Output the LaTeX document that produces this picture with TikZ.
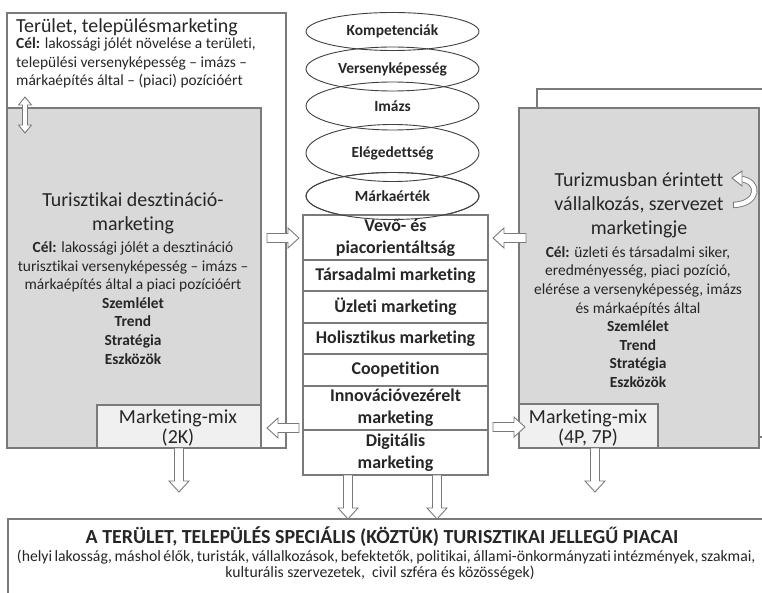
\documentclass[tikz,border=0pt]{standalone}
\usepackage{fontspec}
\setmainfont{Carlito}[Ligatures=NoCommon]
\usetikzlibrary{shapes.geometric}
\definecolor{bordc}{HTML}{7A7A7A}
\definecolor{fillg}{HTML}{D9D9D9}
\definecolor{filll}{HTML}{F0F0F0}
\definecolor{txt}{HTML}{262626}
\definecolor{ellc}{HTML}{404040}
\tikzset{
  panel/.style={draw=bordc, line width=1.3bp, inner sep=0pt, outer sep=0pt, anchor=north west},
  rowbox/.style={draw=bordc, line width=1.3bp, fill=white, inner sep=0pt, outer sep=0pt,
     minimum width=185bp, anchor=north, align=center, text=txt,
     font=\fontsize{18}{22}\selectfont\bfseries},
  ell/.style={ellipse, draw=ellc, line width=0.9bp, inner sep=0pt, minimum width=173bp,
     text=txt, font=\fontsize{15.5}{19}\selectfont\bfseries},
  bigtxt/.style={inner sep=0pt, text=txt, align=center, font=\fontsize{20}{24}\selectfont},
  bodytxt/.style={inner sep=0pt, text=txt, align=center, font=\fontsize{15.5}{18.7}\selectfont},
  mixtxt/.style={inner sep=0pt, text=txt, align=center, font=\fontsize{20}{21}\selectfont},
  arrsty/.style={draw=bordc, fill=white, line width=0.9bp, line join=miter},
  pics/barrow/.style={code={
    \draw[arrsty] (0,-4.5) -- (#1-11,-4.5) -- (#1-11,-10) -- (#1,0) -- (#1-11,10)
       -- (#1-11,4.5) -- (0,4.5) -- cycle;
  }},
}
\begin{document}
\begin{tikzpicture}[x=1bp,y=-1bp]
\useasboundingbox (0,0) rectangle (762,593);
\clip (0,0) rectangle (762,593);
\fill[white] (0,0) rectangle (762,593);

% ---------- left panel ----------
\node[panel, fill=white, minimum width=279bp, minimum height=435bp] (lout) at (7,13) {};
\node[panel, fill=fillg, minimum width=254bp, minimum height=340bp] (lgray) at (7,108) {};
\node[panel, fill=filll, minimum width=164bp, minimum height=43bp] (lmix) at (97,405) {};

\node[anchor=west, bigtxt] (ltitle) at (16,27) {Terület, településmarketing};
\node[anchor=west, bodytxt, align=left] (lcel) at (16,63)
  {\textbf{Cél:} lakossági jólét növelése a területi,\\
   települési versenyképesség – imázs –\\
   márkaépítés által – (piaci) pozícióért};

\draw[arrsty] (25,97) -- (31.5,105) -- (27.5,105) -- (27.5,125) -- (31.5,125) -- (25,133)
   -- (18.5,125) -- (22.5,125) -- (22.5,105) -- (18.5,105) -- cycle;

\node[bigtxt] (ldest) at (133,213) {Turisztikai desztináció-\\marketing};
\node[bodytxt] (ldcel) at (133,303)
  {\textbf{Cél:} lakossági jólét a desztináció\\
   turisztikai versenyképesség – imázs –\\
   márkaépítés által a piaci pozícióért\\
   \textbf{Szemlélet}\\ \textbf{Trend}\\ \textbf{Stratégia}\\ \textbf{Eszközök}};
\node[mixtxt] (lmixt) at (178,428) {Marketing-mix\\(2K)};

% ---------- right panel ----------
\draw[bordc, line width=1.3bp] (537,108) -- (537,89) -- (775,89);
\draw[bordc, line width=1.3bp] (759,437) -- (775,437);
\node[panel, fill=fillg, minimum width=240bp, minimum height=340bp] (rgray) at (519,108) {};
\node[panel, fill=filll, minimum width=139bp, minimum height=44bp] (rmix) at (519,404) {};

\node[bigtxt] (rtitle) at (639,205) {Turizmusban érintett\\vállalkozás, szervezet\\marketingje};
\node[bodytxt] (rcel) at (638,317)
  {\textbf{Cél:} üzleti és társadalmi siker,\\
   eredményesség, piaci pozíció,\\
   elérése a versenyképesség, imázs\\
   és márkaépítés által\\
   \textbf{Szemlélet}\\ \textbf{Trend}\\ \textbf{Stratégia}\\ \textbf{Eszközök}};
\node[mixtxt] (rmixt) at (588,428) {Marketing-mix\\(4P, 7P)};

% curved U-turn arrow
\draw[bordc, line width=0.9bp, double=white, double distance=4.5bp]
  (741,179) .. controls (760,181) and (760,204) .. (733,205);
\draw[arrsty] (732,178) -- (742,171) -- (742,186) -- cycle;
\draw[bordc, line width=0.9bp] (733,201.8) -- (733,208.2);

% ---------- central column ----------
\node[ell, minimum height=38bp] (e1) at (392.5,31.5) {Kompetenciák};
\node[ell, minimum height=44bp] (e2) at (392.5,69) {Versenyképesség};
\node[ell, minimum height=48bp] (e3) at (392.5,106) {Imázs};
\node[ell, minimum height=57bp] (e4) at (392.5,153) {Elégedettség};
\node[ell, minimum height=47bp] (e5) at (392.5,196) {Márkaérték};

\node[rowbox, minimum height=45bp] (r1) at (395.5,215) {Vevő- és\\piacorientáltság};
\node[rowbox, minimum height=31bp] (r2) at (r1.south) {Társadalmi marketing};
\node[rowbox, minimum height=32bp] (r3) at (r2.south) {Üzleti marketing};
\node[rowbox, minimum height=31bp] (r4) at (r3.south) {Holisztikus marketing};
\node[rowbox, minimum height=32bp] (r5) at (r4.south) {Coopetition};
\node[rowbox, minimum height=44bp] (r6) at (r5.south) {Innovációvezérelt\\marketing};
\node[rowbox, minimum height=45bp] (r7) at (r6.south) {Digitális\\marketing};
% ellipse 5 outline shows through the first row
\draw[ellc, line width=0.9bp] (e5.center) ellipse [x radius=86.5, y radius=23.5];

% ---------- block arrows ----------
\pic at (267,238) {barrow=32};
\pic[rotate=180] at (526,238) {barrow=33};
\pic[rotate=180] at (299,428) {barrow=32};
\pic at (493,427) {barrow=32};
\pic[rotate=-90] at (lmix.south |- 0,448) {barrow=44};
\pic[rotate=-90] at (348,475) {barrow=44};
\pic[rotate=-90] at (437,475) {barrow=44};
\pic[rotate=-90] at (595,448) {barrow=44};

% ---------- bottom box ----------
\node[panel, fill=white, minimum width=780bp, minimum height=100bp] (bot) at (8,519) {};
\node[inner sep=0pt, text=txt, font=\fontsize{20}{24}\selectfont\bfseries] (bt1) at (382,537)
  {A TERÜLET, TELEPÜLÉS SPECIÁLIS (KÖZTÜK) TURISZTIKAI JELLEGŰ PIACAI};
\node[inner sep=0pt, text=txt, font=\fontsize{15.8}{19}\selectfont] (bt2) at (384.5,557)
  {\hbox to 735bp{(helyi lakosság, máshol élők, turisták, vállalkozások, befektetők, politikai, állami-önkormányzati intézmények, szakmai,}};
\node[inner sep=0pt, text=txt, font=\fontsize{15.8}{19}\selectfont] (bt3) at (380,573)
  {kulturális szervezetek,\ \ civil szféra és közösségek)};
\end{tikzpicture}
\end{document}
